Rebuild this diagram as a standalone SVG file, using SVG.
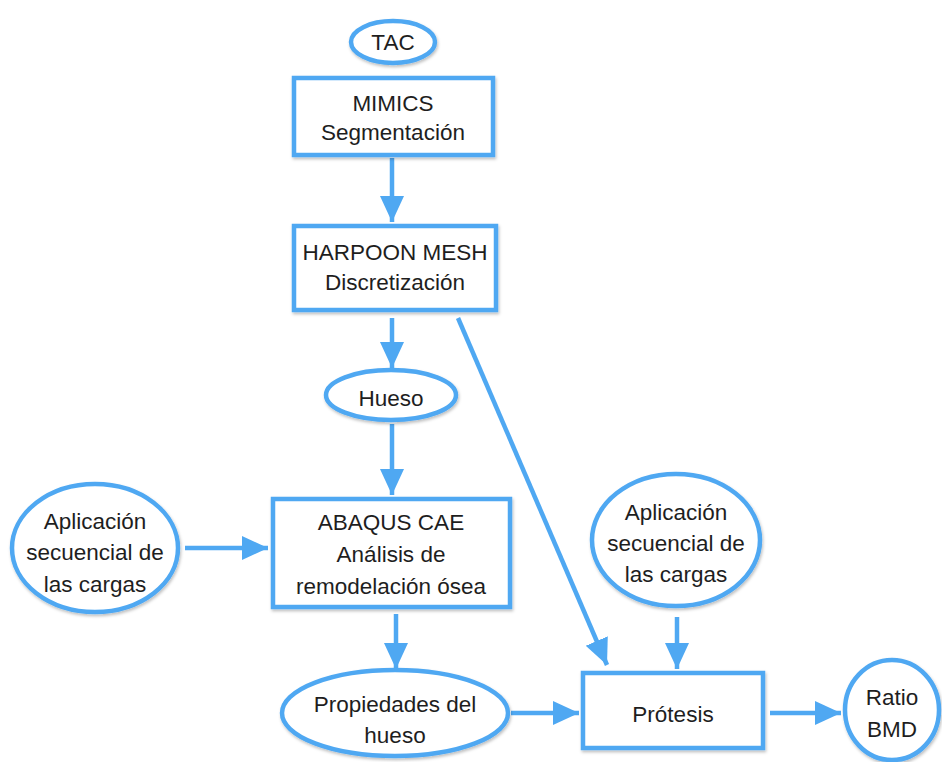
<svg xmlns="http://www.w3.org/2000/svg" width="942" height="762" viewBox="0 0 942 762">
<style>
.s{fill:#fff;stroke:#4fa8f2;stroke-width:4.5;filter:url(#sh)}
.c{stroke:#4fa8f2;stroke-width:4.5;fill:none}
text{font-family:"Liberation Sans",Arial,sans-serif;font-size:22.5px;fill:#1e1e1e;text-anchor:middle}
</style>
<defs>
<filter id="sh" x="-10%" y="-10%" width="125%" height="130%">
<feDropShadow dx="1" dy="2" stdDeviation="1.5" flood-color="#000" flood-opacity="0.25"/>
</filter>
<marker id="a" markerUnits="userSpaceOnUse" markerWidth="28" markerHeight="26" refX="26" refY="12" orient="auto">
<path d="M0,0 L26,12 L0,24 Z" fill="#4fa8f2"/>
</marker>
</defs>
<g id="connectors">
<line class="c" x1="392" y1="158" x2="392" y2="222" marker-end="url(#a)"/>
<line class="c" x1="392" y1="318" x2="392" y2="368" marker-end="url(#a)"/>
<line class="c" x1="392" y1="424" x2="392" y2="495" marker-end="url(#a)"/>
<line class="c" x1="185" y1="548" x2="268" y2="548" marker-end="url(#a)"/>
<line class="c" x1="396" y1="614" x2="396" y2="669" marker-end="url(#a)"/>
<line class="c" x1="458" y1="318" x2="607" y2="665" marker-end="url(#a)"/>
<line class="c" x1="677" y1="617" x2="677" y2="669" marker-end="url(#a)"/>
<line class="c" x1="511" y1="713" x2="579" y2="713" marker-end="url(#a)"/>
<line class="c" x1="770" y1="713" x2="841" y2="713" marker-end="url(#a)"/>
</g>
<g id="tac"><ellipse class="s" cx="393" cy="42" rx="42" ry="21"/><text x="393" y="50">TAC</text></g>
<g id="mimics"><rect class="s" x="294" y="78" width="199" height="77"/><text x="393" y="111">MIMICS</text><text x="393" y="140">Segmentación</text></g>
<g id="harpoon"><rect class="s" x="294" y="226" width="202" height="84"/><text x="395" y="260">HARPOON MESH</text><text x="395" y="290">Discretización</text></g>
<g id="hueso"><ellipse class="s" cx="391" cy="395" rx="65" ry="25"/><text x="391" y="406">Hueso</text></g>
<g id="abaqus"><rect class="s" x="273" y="499" width="237" height="108"/><text x="391" y="530">ABAQUS CAE</text><text x="391" y="562">Análisis de</text><text x="391" y="594">remodelación ósea</text></g>
<g id="cargas1"><ellipse class="s" cx="95" cy="548" rx="83" ry="64"/><text x="95" y="529">Aplicación</text><text x="95" y="560">secuencial de</text><text x="95" y="592">las cargas</text></g>
<g id="cargas2"><ellipse class="s" cx="676" cy="540" rx="84" ry="66"/><text x="676" y="520">Aplicación</text><text x="676" y="551">secuencial de</text><text x="676" y="582">las cargas</text></g>
<g id="propiedades"><ellipse class="s" cx="395" cy="713" rx="113" ry="43"/><text x="395" y="712">Propiedades del</text><text x="395" y="743">hueso</text></g>
<g id="protesis"><rect class="s" x="583" y="673" width="180" height="75"/><text x="673" y="722">Prótesis</text></g>
<g id="ratio"><ellipse class="s" cx="892" cy="710" rx="47" ry="50"/><text x="892" y="705">Ratio</text><text x="892" y="737">BMD</text></g>
</svg>
